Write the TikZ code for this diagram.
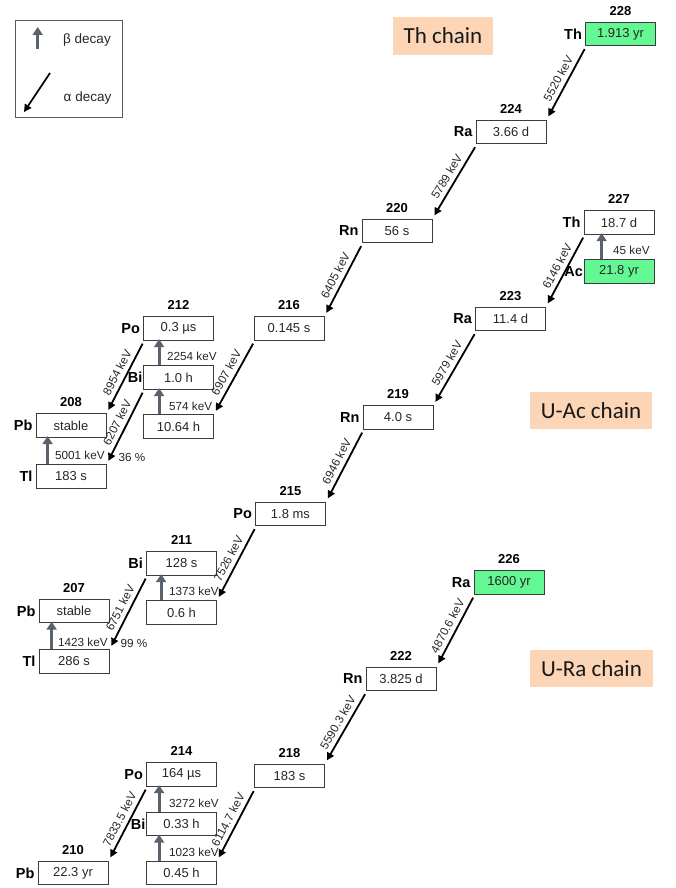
\documentclass[tikz,border=0pt]{standalone}
\usepackage{fontspec}
\setmainfont{Liberation Sans}
\newfontfamily\calibri{Carlito}
\usetikzlibrary{arrows.meta,calc}
\definecolor{nucgreen}{RGB}{100,248,148}
\definecolor{peach}{RGB}{251,213,181}
\definecolor{betagray}{RGB}{90,98,110}
\definecolor{boxline}{RGB}{60,60,60}
\begin{document}
\begin{tikzpicture}[x=1pt,y=-1pt,
  nuc/.style={draw=boxline,line width=0.8pt,minimum width=70pt,minimum height=23.5pt,inner sep=0pt,
    font=\fontsize{13}{13}\selectfont,text=black!85},
  gnuc/.style={nuc,fill=nucgreen},
  massfont/.style={font=\bfseries\fontsize{13}{13}\selectfont,inner sep=0pt,label distance=6.5pt},
  elemfont/.style={font=\bfseries\fontsize{14.5}{14.5}\selectfont,inner sep=0pt,label distance=3pt},
  mass/.style={label={[massfont]above:#1}},
  elem/.style={label={[elemfont]left:#1}},
  elemc/.style={label={[elemfont,label distance=0.5pt]left:#1}},
  alphaarr/.style={draw=black,line width=1.8pt,-{Triangle[length=7.5pt,width=7.5pt]}},
  betaarr/.style={draw=betagray,line width=3.2pt,-{Triangle[length=8pt,width=10pt]}},
  elab/.style={font=\fontsize{11.7}{12}\selectfont,text=black!85},
  alab/.style={elab,midway,sloped,above,inner sep=4.2pt},
  chain/.style={fill=peach,minimum width=#1,minimum height=37.5pt,inner sep=0pt,
    font=\calibri\fontsize{23}{23}\selectfont,text=black!90}
]
\useasboundingbox (0,0) rectangle (676,888);

% legend
\node[draw=black!65,line width=0.8pt,minimum width=107pt,minimum height=97pt,inner sep=0pt] (legend) at (68.5,68.5) {};
\coordinate (lb1) at (37.7,49);
\coordinate (lb2) at (37.7,27);
\coordinate (la1) at (50,73);
\coordinate (la2) at (24,112);
\draw[betaarr] (lb1) -- (lb2);
\draw[alphaarr] (la1) -- (la2);
\node[font=\fontsize{13.5}{14}\selectfont,text=black!85] (lbtext) at (87,40) {β decay};
\node[font=\fontsize{13.5}{14}\selectfont,text=black!85] (latext) at (87.5,98) {α decay};

% chain titles
\node[chain=100pt] (thchain) at (443,36) {Th chain};
\node[chain=122pt] (acchain) at (591,410.5) {U-Ac chain};
\node[chain=123pt] (rachain) at (591.5,668.5) {U-Ra chain};

% Th chain
\node[gnuc,mass=228,elem=Th] (Th228) at (620.5,34) {1.913 yr};
\node[nuc,mass=224,elem=Ra] (Ra224) at (511,132) {3.66 d};
\node[nuc,mass=220,elem=Rn] (Rn220) at (397,231) {56 s};
\node[nuc,mass=216] (Po216) at (289,328.5) {0.145 s};
\node[nuc,mass=212,elem=Po] (Po212) at (178.5,328.5) {0.3 µs};
\node[nuc,elemc=Bi] (Bi212) at (178.5,377.5) {1.0 h};
\node[nuc] (Pb212) at (178.5,426.5) {10.64 h};
\node[nuc,mass=208,elem=Pb] (Pb208) at (71,425.5) {stable};
\node[nuc,elem=Tl] (Tl208) at (71,476.5) {183 s};

% U-Ac chain
\node[nuc,mass=227,elem=Th] (Th227) at (619,222.5) {18.7 d};
\node[gnuc,elemc=Ac] (Ac227) at (619,271.5) {21.8 yr};
\node[nuc,mass=223,elem=Ra] (Ra223) at (510.5,319) {11.4 d};
\node[nuc,mass=219,elem=Rn] (Rn219) at (398,417.5) {4.0 s};
\node[nuc,mass=215,elem=Po] (Po215) at (290.5,514) {1.8 ms};
\node[nuc,mass=211,elem=Bi] (Bi211) at (181.5,563.5) {128 s};
\node[nuc] (Pb211) at (181.5,612.5) {0.6 h};
\node[nuc,mass=207,elem=Pb] (Pb207) at (74,611) {stable};
\node[nuc,elem=Tl] (Tl207) at (74,661.5) {286 s};

% U-Ra chain
\node[gnuc,mass=226,elem=Ra] (Ra226) at (509,582.5) {1600 yr};
\node[nuc,mass=222,elem=Rn] (Rn222) at (401,679) {3.825 d};
\node[nuc,mass=218] (Po218) at (289.5,776) {183 s};
\node[nuc,mass=214,elem=Po] (Po214) at (181.5,774.5) {164 µs};
\node[nuc,elemc=Bi] (Bi214) at (181.5,824) {0.33 h};
\node[nuc] (Pb214) at (181.5,873) {0.45 h};
\node[nuc,mass=210,elem=Pb] (Pb210) at (73,873) {22.3 yr};

% alpha decays
\foreach \a/\b/\e in {Th228/Ra224/5520 keV, Ra224/Rn220/5789 keV, Rn220/Po216/6405 keV,
  Po216/Pb212/6907 keV, Po212/Pb208/8954 keV, Bi212/Tl208/6207 keV,
  Th227/Ra223/6146 keV, Ra223/Rn219/5979 keV, Rn219/Po215/6946 keV,
  Po215/Pb211/7526 keV, Bi211/Tl207/6751 keV,
  Ra226/Rn222/4870.6 keV, Rn222/Po218/5590.3 keV, Po218/Pb214/6114.7 keV, Po214/Pb210/7833.5 keV}
  \draw[alphaarr] ($(\a.south west)+(-0.5,3)$) -- node[alab] {\e} ($(\b.north east)+(2,-3.5)$);

% beta decays
\draw[betaarr] ($(Ac227.north west)+(18,0)$) -- ($(Th227.south west)+(18,-1.5)$);
\draw[betaarr] ($(Pb212.north west)+(16,0)$) -- ($(Bi212.south west)+(16,-1.5)$);
\draw[betaarr] ($(Bi212.north west)+(16,0)$) -- ($(Po212.south west)+(16,-1.5)$);
\draw[betaarr] ($(Tl208.north west)+(12,0)$) -- ($(Pb208.south west)+(12,-1.5)$);
\draw[betaarr] ($(Pb211.north west)+(15,0)$) -- ($(Bi211.south west)+(15,-1.5)$);
\draw[betaarr] ($(Tl207.north west)+(13,0)$) -- ($(Pb207.south west)+(13,-1.5)$);
\draw[betaarr] ($(Pb214.north west)+(13,0)$) -- ($(Bi214.south west)+(13,-1.5)$);
\draw[betaarr] ($(Bi214.north west)+(13,0)$) -- ($(Po214.south west)+(13,-1.5)$);

% beta energies
\node[elab,anchor=west,inner sep=0pt] (e45) at (613,250) {45 keV};
\node[elab,anchor=west,inner sep=0pt] (e2254) at (167,356) {2254 keV};
\node[elab,anchor=west,inner sep=0pt] (e574) at (169,406) {574 keV};
\node[elab,anchor=west,inner sep=0pt] (e5001) at (55,455) {5001 keV};
\node[elab,anchor=west,inner sep=0pt] (e1373) at (169,591) {1373 keV};
\node[elab,anchor=west,inner sep=0pt] (e1423) at (58,642) {1423 keV};
\node[elab,anchor=west,inner sep=0pt] (e3272) at (169,803) {3272 keV};
\node[elab,anchor=west,inner sep=0pt] (e1023) at (169,852) {1023 keV};

% branching ratios
\node[elab,inner sep=0pt] (br36) at (132,457) {36 \%};
\node[elab,inner sep=0pt] (br99) at (134,643) {99 \%};
\end{tikzpicture}
\end{document}
